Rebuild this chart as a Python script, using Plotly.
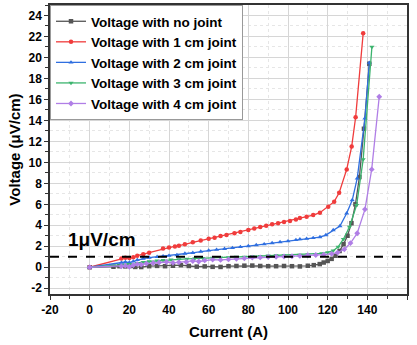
import plotly.graph_objects as go

# ---------------- data ----------------
no_joint_x = [0, 12, 15, 18, 21, 23, 26, 30, 34, 38, 42, 46, 50, 54, 58, 62, 66, 70, 74, 78,
              82, 86, 90, 94, 98, 102, 106, 110, 113, 116, 118, 120, 122, 124, 126, 128, 130,
              132, 134, 136, 138.3, 141]
no_joint_y = [0, 0.05, 0.1, 0.08, 0.12, 0.03, 0.02, 0.1, 0.13, 0.1, 0.14, 0.2, 0.12, 0.06,
              0.08, 0.04, 0.03, 0.1, 0.12, 0.15, 0.16, 0.12, 0.1, 0.1, 0.12, 0.1, 0.08, 0.14,
              0.2, 0.3, 0.45, 0.6, 0.8, 1.1, 1.55, 2.2, 3.0, 4.2, 6.0, 8.6, 13.2, 19.4]

j1_x = [0, 16, 18, 20, 22, 24, 27, 30, 37, 40, 43, 45, 48, 52, 56, 60, 63, 66, 69, 73, 76,
        80, 83, 86, 89, 92, 95, 98, 101, 104, 106, 109.4, 112.7, 116.1, 120.3, 123.3, 125.8,
        129.6, 132.1, 134.1, 137.9]
j1_y = [0, 0.83, 0.9, 0.88, 0.95, 1.1, 1.24, 1.38, 1.78, 1.88, 1.98, 2.05, 2.19, 2.38, 2.55,
        2.72, 2.82, 2.98, 3.08, 3.25, 3.37, 3.55, 3.7, 3.84, 3.96, 4.1, 4.2, 4.32, 4.42, 4.55,
        4.7, 4.82, 4.98, 5.2, 5.77, 6.25, 7.1, 9.33, 11.5, 14.3, 22.3]

j2_x = [0, 16, 18, 20, 22, 24, 27, 30, 34, 37, 40, 44, 48, 52, 56, 60, 64, 68, 72, 76, 80,
        84, 88, 92, 96, 100, 104, 106, 109.4, 112.7, 116.1, 119.1, 122.8, 126.2, 129.6,
        132.4, 134.9, 138.8, 141]
j2_y = [0, 0.44, 0.5, 0.45, 0.55, 0.7, 0.83, 0.92, 1.0, 1.05, 1.1, 1.16, 1.3, 1.38, 1.5,
        1.6, 1.68, 1.76, 1.84, 1.94, 2.02, 2.12, 2.2, 2.3, 2.4, 2.48, 2.6, 2.67, 2.72, 2.8,
        2.88, 3.07, 3.55, 3.93, 5.14, 6.4, 8.47, 14.2, 19.5]

j3_x = [0, 16, 18, 20, 22, 24, 27, 30, 34, 37, 41, 45, 49, 53, 57, 62, 66, 70, 74, 78, 82,
        86, 90, 94, 98, 102, 106, 110, 114, 117, 120, 122.8, 125.3, 127.9, 131, 134.6,
        137.9, 142.3]
j3_y = [0, 0.2, 0.25, 0.3, 0.22, 0.4, 0.5, 0.55, 0.62, 0.67, 0.72, 0.76, 0.8, 0.84, 0.87,
        0.89, 0.92, 0.95, 0.98, 1.0, 1.03, 1.06, 1.1, 1.12, 1.14, 1.16, 1.17, 1.2, 1.25,
        1.32, 1.42, 1.58, 1.95, 2.67, 3.84, 5.93, 10.28, 21.0]

j4_x = [0, 16, 18, 20, 22, 24, 26, 28.6, 32, 35, 38.7, 42, 45, 48.7, 52, 55, 58, 62, 66, 70,
        74, 78, 82, 86, 90, 94, 98, 102, 106, 110, 114, 118, 122, 125, 128.4, 131.5, 134.9,
        138.8, 142.2, 146]
j4_y = [0, 0.1, 0.15, 0.05, 0.2, 0.3, 0.25, 0.35, 0.4, 0.45, 0.5, 0.42, 0.48, 0.5, 0.6,
        0.55, 0.65, 0.73, 0.7, 0.75, 0.8, 0.85, 0.92, 0.94, 0.98, 1.0, 1.02, 1.05, 1.08,
        1.14, 1.17, 1.2, 1.28, 1.4, 1.71, 2.3, 3.24, 5.52, 9.33, 16.25]

series_names = ["Voltage with no joint", "Voltage with 1 cm joint", "Voltage with 2 cm joint",
                "Voltage with 3 cm joint", "Voltage with 4 cm joint"]

threshold = 1.0
threshold_label = "1μV/cm"

x_tick_vals = [-20, 0, 20, 40, 60, 80, 100, 120, 140, 160]
x_tick_text = ["-20", "0", "20", "40", "60", "80", "100", "120", "140", "160"]
y_tick_vals = [-2, 0, 2, 4, 6, 8, 10, 12, 14, 16, 18, 20, 22, 24]
y_tick_text = ["-2", "0", "2", "4", "6", "8", "10", "12", "14", "16", "18", "20", "22", "24"]

# ---------------- style ----------------
colors = ["#555555", "#f03c3c", "#2f6fe0", "#3cb46e", "#b07ee6"]
symbols = ["square", "circle", "triangle-up", "triangle-down", "diamond"]
FONT = "Liberation Sans, Arial, sans-serif"

fig = go.Figure()
data = [(no_joint_x, no_joint_y), (j1_x, j1_y), (j2_x, j2_y), (j3_x, j3_y), (j4_x, j4_y)]
for (xs, ys), name, c, s in zip(data, series_names, colors, symbols):
    fig.add_trace(go.Scatter(
        x=xs, y=ys, name=name, mode="lines+markers",
        line=dict(color=c, width=1.3),
        marker=dict(color=c, size=4.5, symbol=s),
    ))

fig.add_shape(type="line", xref="x", yref="y", x0=-20, x1=160, y0=threshold, y1=threshold,
              line=dict(color="black", width=2, dash="dash"), layer="above")

fig.add_annotation(x=6.2, y=2.6, xref="x", yref="y", text=threshold_label, showarrow=False,
                   font=dict(family=FONT, size=19, color="black", weight="bold"))

axis_common = dict(
    showline=True, linecolor="#333333", linewidth=1.5, mirror=True,
    ticks="outside", ticklen=4, tickwidth=1.2, tickcolor="#333333",
    showgrid=True, gridcolor="#d6d6d6", gridwidth=1, zeroline=False,
    tickfont=dict(family=FONT, size=12, color="black", weight="bold"),
)

fig.update_xaxes(
    range=[-20, 160], tickmode="array", tickvals=x_tick_vals, ticktext=x_tick_text,
    minor=dict(dtick=10, ticks="outside", ticklen=3, tickcolor="#333333",
               showgrid=True, gridcolor="#e6e6e6", griddash="dot"),
    title=dict(text="Current (A)", font=dict(family=FONT, size=15, color="black", weight="bold"),
               standoff=10),
    automargin=False,
    **axis_common,
)
fig.update_yaxes(
    range=[-2.55, 25], tickmode="array", tickvals=y_tick_vals, ticktext=y_tick_text,
    minor=dict(dtick=1, tick0=0, ticks="outside", ticklen=3, tickcolor="#333333",
               showgrid=True, gridcolor="#e6e6e6", griddash="dot"),
    title=dict(text="Voltage (μV/cm)", font=dict(family=FONT, size=15, color="black", weight="bold"),
               standoff=4),
    automargin=False,
    **axis_common,
)

fig.update_layout(
    width=417, height=345,
    margin=dict(l=50, r=10, t=5, b=51),
    plot_bgcolor="white", paper_bgcolor="white",
    font=dict(family=FONT, color="black"),
    legend=dict(x=0, y=1, xanchor="left", yanchor="top",
                bgcolor="white", bordercolor="#999999", borderwidth=1,
                font=dict(family=FONT, size=13.5, color="black", weight="bold"),
                tracegroupgap=0, itemwidth=30),
    showlegend=True,
)

fig.write_html("out.html")
